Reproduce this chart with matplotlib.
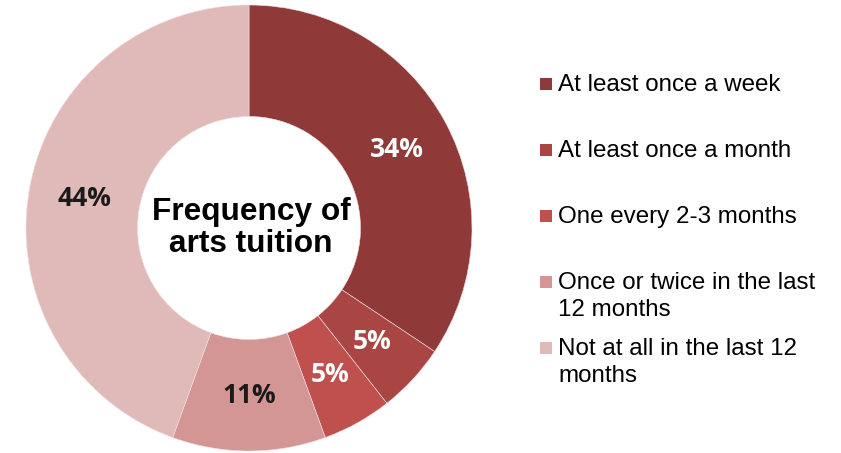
import matplotlib
matplotlib.use("Agg")
import matplotlib.pyplot as plt
from matplotlib.patches import Rectangle

# Survey shares for how often arts tuition was received
categories = [
    "At least once a week",
    "At least once a month",
    "One every 2-3 months",
    "Once or twice in the last\n12 months",
    "Not at all in the last 12\nmonths",
]
shares = [34, 5, 5, 11, 44]
colors = ["#8F3A39", "#A94644", "#C0504D", "#D39695", "#E0B9B9"]
label_colors = ["white", "white", "white", "#1a1a1a", "#1a1a1a"]
center_title = "Frequency of\narts tuition"

W, H = 841, 453
fig = plt.figure(figsize=(W / 100, H / 100), dpi=100)
fig.patch.set_facecolor("white")

# Donut axes, placed in pixel terms
cx, cy, R = 249, 228, 223
ax = fig.add_axes([(cx - R) / W, (H - cy - R) / H, 2 * R / W, 2 * R / H])
ax.set_aspect("equal")

wedges, texts, autotexts = ax.pie(
    shares,
    colors=colors,
    startangle=90,
    counterclock=False,
    radius=1.0,
    pctdistance=0.75,
    autopct=lambda p: f"{p:.0f}%",
    wedgeprops=dict(width=0.5, edgecolor="#f2e0e0", linewidth=0.4),
    textprops=dict(fontfamily="Open Sans", fontweight="bold", fontsize=19),
)
for t, c in zip(autotexts, label_colors):
    t.set_color(c)
ax.set_xlim(-1, 1)
ax.set_ylim(-1, 1)
ax.axis("off")

ax.text(0.01, 0.0, center_title, ha="center", va="center",
        fontfamily="Liberation Sans", fontweight="bold", fontsize=22.8,
        linespacing=1.05, color="black")

# Legend drawn as swatches with text, first lines 66 px apart
def fx(x):
    return x / W

def fy(y):
    return 1 - y / H

base0, step, line_gap = 91, 66, 27.5
for i, (lab, col) in enumerate(zip(categories, colors)):
    b = base0 + i * step
    fig.patches.append(Rectangle((fx(540), fy(b - 1)), 12 / W, 12 / H,
                                 transform=fig.transFigure, facecolor=col,
                                 edgecolor="none"))
    for k, line in enumerate(lab.split("\n")):
        fig.text(fx(558), fy(b + k * line_gap), line, ha="left", va="baseline",
                 fontfamily="Liberation Sans", fontsize=17.4, color="black")

fig.savefig("out.png", dpi=100, facecolor="white")
